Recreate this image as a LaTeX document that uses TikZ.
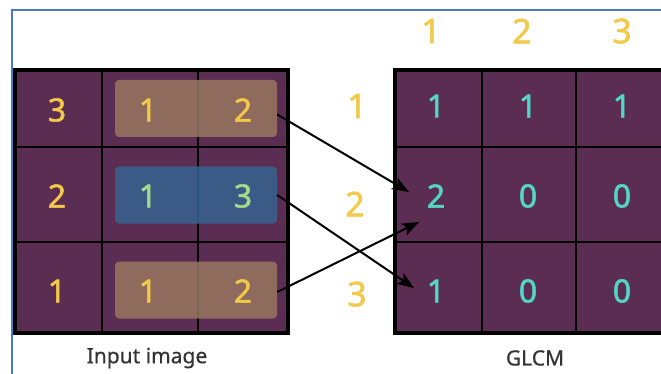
\documentclass[tikz,border=0pt]{standalone}
\usepackage{fontspec}
\setmainfont{Noto Sans}
\newfontfamily\digitfont{Noto Sans}[FakeBold=1.6]
\newfontfamily\capfont{Noto Sans}[FakeBold=0.6]
\usetikzlibrary{arrows.meta}
\definecolor{cellpurple}{HTML}{5C2D52}
\definecolor{tanbox}{HTML}{97765E}
\definecolor{bluebox}{HTML}{376390}
\definecolor{numyellow}{HTML}{F2C94A}
\definecolor{numcyan}{HTML}{52D6C6}
\definecolor{numgreen}{HTML}{A6D98A}
\definecolor{borderblue}{HTML}{4A78CC}
\definecolor{captiongray}{HTML}{333333}
\tikzset{
  hlbox/.style={minimum width=162pt, minimum height=57pt, rounded corners=4pt, fill opacity=0.85, inner sep=0pt},
  digit/.style={font=\digitfont\fontsize{32}{32}\selectfont, inner sep=0pt},
  headnum/.style={digit, text=numyellow, font=\digitfont\fontsize{34}{34}\selectfont},
  ynum/.style={digit, text=numyellow},
  cnum/.style={digit, text=numcyan},
  gnum/.style={digit, text=numgreen},
  caption/.style={font=\capfont\fontsize{21}{21}\selectfont, text=captiongray, inner sep=0pt},
  gridline/.style={black, line width=2.5pt},
  outerline/.style={black, line width=3.5pt},
  arr/.style={black, line width=2pt, -{Stealth[length=17pt, width=13pt, inset=4pt]}}
}
\begin{document}
\begin{tikzpicture}[x=1pt, y=-1pt]
\useasboundingbox (0,0) rectangle (661,374);
\fill[white] (0,0) rectangle (661,374);
\draw[borderblue, line width=2.5pt] (12,374) -- (12,10) -- (661,10);

% ---------- input image ----------
\fill[cellpurple] (15,70) rectangle (288,333);
\draw[gridline] (102,70) -- (102,333) (198,70) -- (198,333)
                (15,147) -- (288,147) (15,242) -- (288,242);
\draw[outerline] (15,70) rectangle (288,333);
\node[hlbox, fill=tanbox] (h1) at (196,108.5) {};
\node[hlbox, fill=bluebox] (h2) at (196,195) {};
\node[hlbox, fill=tanbox] (h3) at (196,290) {};

\node[ynum] (i11) at (57,110) {3};
\node[ynum] (i12) at (148,110) {1};
\node[ynum] (i13) at (243,110) {2};
\node[ynum] (i21) at (57,196) {2};
\node[gnum] (i22) at (148,196) {1};
\node[gnum] (i23) at (243,196) {3};
\node[ynum] (i31) at (57,291) {1};
\node[ynum] (i32) at (148,291) {1};
\node[ynum] (i33) at (243,291) {2};
\node[caption] (cap1) at (147,358) {Input image};

% ---------- GLCM ----------
\begin{scope}
\clip (0,0) rectangle (661,374);
\fill[cellpurple] (395,70) rectangle (672,333);
\draw[gridline] (482,70) -- (482,333) (576,70) -- (576,333)
                (395,147) -- (672,147) (395,242) -- (672,242);
\draw[outerline] (395,70) rectangle (672,333);
\end{scope}

\node[headnum] (c1) at (431,31) {1};
\node[headnum] (c2) at (522,31) {2};
\node[headnum] (c3) at (622,31) {3};
\node[headnum] (r1) at (357,106) {1};
\node[headnum] (r2) at (355,204) {2};
\node[headnum] (r3) at (357,294) {3};

\node[cnum] (g11) at (436,106) {1};
\node[cnum] (g12) at (528,106) {1};
\node[cnum] (g13) at (622,106) {1};
\node[cnum] (g21) at (436,196) {2};
\node[cnum] (g22) at (528,196) {0};
\node[cnum] (g23) at (622,196) {0};
\node[cnum] (g31) at (436,291) {1};
\node[cnum] (g32) at (528,291) {0};
\node[cnum] (g33) at (622,291) {0};
\node[caption] (cap2) at (535,358) {GLCM};

% ---------- arrows ----------
\coordinate (e1) at (409,192);
\coordinate (e2) at (414,288);
\coordinate (e3) at (419,222);
\draw[arr] ([yshift=-6pt]h1.east) -- (e1);
\draw[arr] (h2.east) -- (e2);
\draw[arr] ([yshift=-2pt]h3.east) -- (e3);
\end{tikzpicture}
\end{document}
